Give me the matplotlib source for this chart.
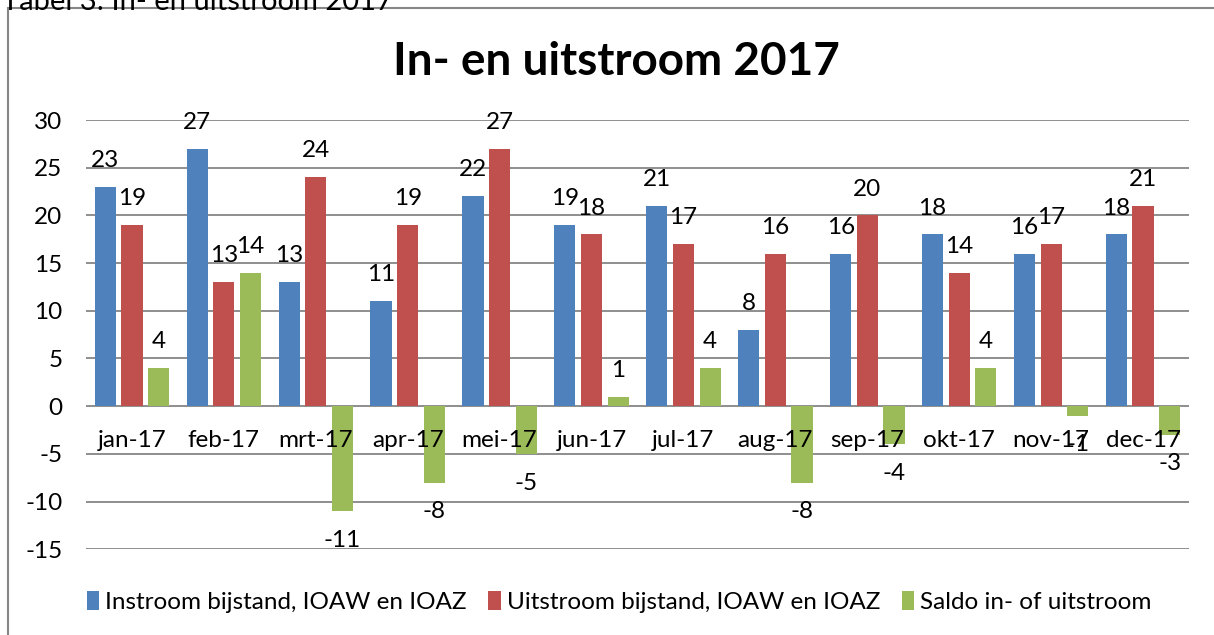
import numpy as np
import matplotlib
matplotlib.use("Agg")
import matplotlib.pyplot as plt
from matplotlib.patches import Rectangle

plt.rcParams['font.family'] = ['Lato', 'DejaVu Sans']
plt.rcParams['axes.unicode_minus'] = False

# data
maanden = ["jan-17", "feb-17", "mrt-17", "apr-17", "mei-17", "jun-17",
           "jul-17", "aug-17", "sep-17", "okt-17", "nov-17", "dec-17"]
instroom = [23, 27, 13, 11, 22, 19, 21, 8, 16, 18, 16, 18]
uitstroom = [19, 13, 24, 19, 27, 18, 17, 16, 20, 14, 17, 21]
saldo = [4, 14, -11, -8, -5, 1, 4, -8, -4, 4, -1, -3]
reeksen = ["Instroom bijstand, IOAW en IOAZ", "Uitstroom bijstand, IOAW en IOAZ",
           "Saldo in- of uitstroom"]
kleuren = ["#4F81BD", "#C0504D", "#9BBB59"]

fs = 17.5

fig = plt.figure(figsize=(12.14, 6.35), dpi=100)
ax = fig.add_axes([86 / 1214, 0.135, 1103 / 1214, 0.676])

# outer chart frame (partly off the page)
fig.patches.append(Rectangle((8 / 1214, -0.1), 1.2, 1 - 8 / 635 + 0.1,
                             transform=fig.transFigure, fill=False,
                             edgecolor="#868686", linewidth=1.5))
# clipped caption above the frame
fig.text(2 / 1214, 0.997, "Tabel 3: In- en uitstroom 2017", fontsize=21,
         va="center", ha="left", color="black")

x = np.arange(len(maanden))
breedte = 0.23
stap = 0.29
for i, (waarden, label, kleur) in enumerate(zip([instroom, uitstroom, saldo], reeksen, kleuren)):
    bars = ax.bar(x + (i - 1) * stap, waarden, breedte, color=kleur, label=label, zorder=2)
    for b, v in zip(bars, waarden):
        off = 19 if v >= 0 else -21
        ax.annotate(str(v), (b.get_x() + b.get_width() / 2, v), xytext=(0, off),
                    textcoords="offset points", ha="center", va="center", fontsize=fs)

ax.set_ylim(-15, 30)
ax.set_xlim(-0.5, len(maanden) - 0.5)
ax.set_yticks(range(-15, 31, 5))
ax.tick_params(axis="y", length=0, labelsize=fs, pad=17)
ax.yaxis.grid(True, color="#868686", linewidth=1.3, zorder=0)
ax.set_axisbelow(True)
ax.set_xticks([])
for s in ax.spines.values():
    s.set_visible(False)

# category labels just below the zero line
for xi, m in zip(x, maanden):
    ax.text(xi, -3.6, m, ha="center", va="center", fontsize=fs, zorder=3)

fig.text(0.508, 0.903, "In- en uitstroom 2017", ha="center", va="center",
         fontsize=33, fontweight="bold")

fig.legend(loc="center", bbox_to_anchor=(0.51, 0.052), ncol=3, frameon=False,
           fontsize=fs, handlelength=0.5, handleheight=0.8, handletextpad=0.25,
           columnspacing=0.9)

fig.savefig("out.png", dpi=100)
